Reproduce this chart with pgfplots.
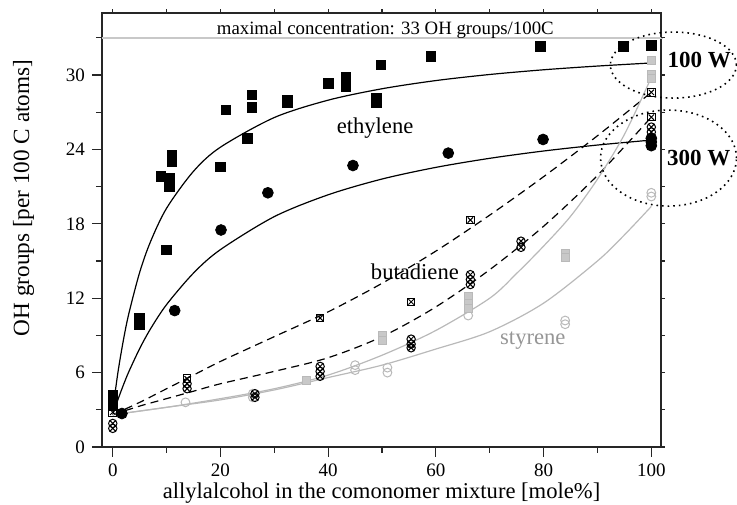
\documentclass[border=0pt]{standalone}
\usepackage{pgfplots}
\pgfplotsset{compat=1.18}
\usepackage{fontspec}
\setmainfont{Liberation Serif}
\usetikzlibrary{plotmarks}
\definecolor{lgray}{RGB}{200,200,200}
\definecolor{mgray}{RGB}{150,150,150}
\definecolor{sgray}{RGB}{185,185,185}

\begin{document}
\begin{tikzpicture}
\begin{axis}[
  scale only axis, width=279.5pt, height=217pt,
  xmin=-2, xmax=101.8, ymin=0, ymax=35,
  xtick={0,20,...,100}, minor xtick={10,30,...,90},
  ytick={0,6,...,30}, minor ytick={3,9,...,33},
  tick align=outside, xtick pos=left, ytick pos=left,
  major tick length=5pt, minor tick length=3pt,
  tick style={black!85, line width=0.6pt},
  axis line style={line width=0.9pt, black!85},
  ticklabel style={font=\fontsize{9.5}{10}\selectfont},
  /pgf/number format/assume math mode=true,
  xlabel={allylalcohol in the comonomer mixture [mole\%]},
  ylabel={OH groups [per 100 C atoms]},
  xlabel style={font=\fontsize{11.3}{12}\selectfont, yshift=4pt},
  ylabel style={font=\fontsize{11.6}{13}\selectfont, at={(ticklabel cs:0.574)}},
  ylabel shift=9pt,
  clip=false,
]
\coordinate (SW) at (rel axis cs:0,0);
\coordinate (NE) at (rel axis cs:1,1);

% maximal concentration
\addplot[lgray, line width=0.8pt] coordinates {(-2,33)(102.2,33)};
\node[font=\fontsize{9.4}{10}\selectfont, anchor=base] at (axis cs:50.6,33.3) {maximal concentration: 33 OH groups/100C};

% fitted curves, ethylene
\addplot[black, line width=0.6pt, smooth] coordinates {
(0,3)(1,6.13)(2,8.68)(3,10.79)(5,14.09)(7,16.55)(10,19.26)(15,22.24)(20,24.18)
(30,26.57)(40,27.97)(50,28.89)(60,29.55)(70,30.04)(80,30.42)(90,30.72)(100,30.97)};
\addplot[black, line width=0.6pt, smooth] coordinates {
(0,2.6)(1,3.87)(2,5.03)(3,6.09)(5,7.94)(7,9.52)(10,11.49)(15,14.03)(20,15.92)
(30,18.58)(40,20.34)(50,21.61)(60,22.55)(70,23.28)(80,23.87)(90,24.35)(100,24.75)};
% butadiene
\addplot[black, line width=0.6pt, smooth, dash pattern=on 4pt off 2.6pt] coordinates {
(0,2.6)(5,3.6)(10,4.7)(15,5.8)(20,6.9)(30,8.9)(40,10.9)(50,13.2)(60,15.8)(70,18.7)(80,21.8)(90,25.1)(100,28.6)};
\addplot[black, line width=0.6pt, smooth, dash pattern=on 4pt off 2.6pt] coordinates {
(0,2.6)(5,3.3)(10,3.9)(15,4.5)(20,5.1)(30,6.1)(40,7.2)(50,8.9)(60,11.3)(70,14.3)(80,17.8)(90,21.9)(100,26.6)};
% styrene
\addplot[sgray, line width=0.6pt, smooth] coordinates {
(0,2.6)(10,3.2)(20,3.9)(30,4.7)(40,5.8)(50,7.4)(60,9.4)(70,12.0)(75,14.0)(80,16.2)(85,18.6)(90,21.6)(95,25.2)(100,29.8)};
\addplot[sgray, line width=0.6pt, smooth] coordinates {
(0,2.6)(10,3.2)(20,3.8)(30,4.6)(40,5.6)(50,6.6)(60,7.9)(70,9.3)(80,11.6)(90,15.0)(95,17.1)(100,19.4)};

% styrene 300 W
\addplot[only marks, mark=o, mark size=2.2pt, mark options={draw=sgray, line width=0.5pt}] coordinates {
(13.5,3.6)(26,4.3)(26,4.0)(45,6.6)(45,6.2)(51,6.4)(51,6.0)(66,10.6)(84,10.2)(84,9.9)(100,20.5)(100,20.2)};
% styrene 100 W
\addplot[only marks, mark=square*, mark size=2pt, mark options={draw=sgray, fill=lgray, line width=0.5pt}] coordinates {
(36,5.4)(50,9.0)(50,8.6)(66,12.1)(66,11.6)(66,11.2)(84,15.6)(84,15.3)(100,31.2)(100,30.0)(100,29.7)};

% butadiene 300 W
\addplot[only marks, mark=otimes, mark size=2.1pt, mark options={draw=black, line width=0.5pt}] coordinates {
(0,1.9)(0,1.5)(13.8,5.1)(13.8,4.7)(26.4,4.3)(26.4,4.0)(38.5,6.5)(38.5,6.1)(38.5,5.7)
(55.4,8.7)(55.4,8.3)(55.4,8.0)(66.4,13.9)(66.4,13.5)(66.4,13.1)(75.8,16.6)(75.8,16.1)(100,25.8)(100,25.4)};
% butadiene 100 W
\addplot[only marks, mark=square, mark size=1.9pt, mark options={draw=black, line width=0.5pt}] coordinates {
(0,2.8)(13.8,5.5)(38.5,10.4)(55.4,11.7)(66.4,18.3)(100,28.6)(100,26.6)};
\addplot[only marks, mark=x, mark size=1.9pt, mark options={draw=black, line width=0.5pt}] coordinates {
(0,2.8)(13.8,5.5)(38.5,10.4)(55.4,11.7)(66.4,18.3)(100,28.6)(100,26.6)};

% ethylene 300 W
\addplot[only marks, mark=*, mark size=2.7pt, mark options={draw=black, fill=black}] coordinates {
(1.7,2.7)(11.5,11.0)(20.1,17.5)(28.8,20.5)(44.6,22.7)(62.3,23.7)(79.9,24.8)(100,24.9)(100,24.6)(100,24.3)};
% ethylene 100 W
\addplot[only marks, mark=square*, mark size=2.4pt, mark options={draw=black, fill=black}] coordinates {
(0,4.2)(0,3.7)(0,3.3)(5,10.4)(5,9.9)(10,15.9)(8.9,21.8)(10.5,21.7)(10.5,21.0)(11,23.5)(11,23.0)
(20,22.6)(21,27.2)(25,24.9)(25.8,28.4)(25.8,27.4)(32.4,27.8)(32.4,28.0)(40,29.3)
(43.3,29.8)(43.3,29.4)(43.3,29.1)(49,28.1)(49,27.8)(49.8,30.8)(59.1,31.5)(79.4,32.3)(94.8,32.3)(100,32.4)};

% labels
\node[font=\fontsize{11.3}{12}\selectfont] at (axis cs:48.7,25.7) {ethylene};
\node[font=\fontsize{11.3}{12}\selectfont] at (axis cs:56.1,14.1) {butadiene};
\node[font=\fontsize{11.3}{12}\selectfont, text=mgray] at (axis cs:78,8.6) {styrene};

% power ellipses
\draw[line width=0.8pt, dash pattern=on 0.8pt off 2pt] (axis cs:104.1,30.8) ellipse [x radius=31.5pt, y radius=16.5pt];
\draw[line width=0.8pt, dash pattern=on 0.8pt off 2pt] (axis cs:103.2,23.3) ellipse [x radius=34pt, y radius=24pt];
\node[font=\fontsize{11.5}{12}\selectfont\bfseries] at (axis cs:108.9,31.2) {100 W};
\node[font=\fontsize{11.5}{12}\selectfont\bfseries] at (axis cs:108.8,23.3) {300 W};
\end{axis}
% short ticks on the top and right sides
\begin{axis}[
  scale only axis, width=279.5pt, height=217pt,
  xmin=-2, xmax=101.8, ymin=0, ymax=35,
  xtick={0,20,...,100}, minor xtick={10,30,...,90},
  ytick={0,6,...,30}, minor ytick={3,9,...,33},
  tick align=outside, xtick pos=right, ytick pos=right,
  major tick length=1.8pt, minor tick length=1.8pt,
  tick style={black!85, line width=0.6pt},
  axis line style={draw=none},
  xticklabels={}, yticklabels={},
]
\end{axis}
\pgfresetboundingbox
\path ([shift={(-51pt,-29pt)}]SW) rectangle ([shift={(38pt,6.5pt)}]NE);
\end{tikzpicture}
\end{document}
